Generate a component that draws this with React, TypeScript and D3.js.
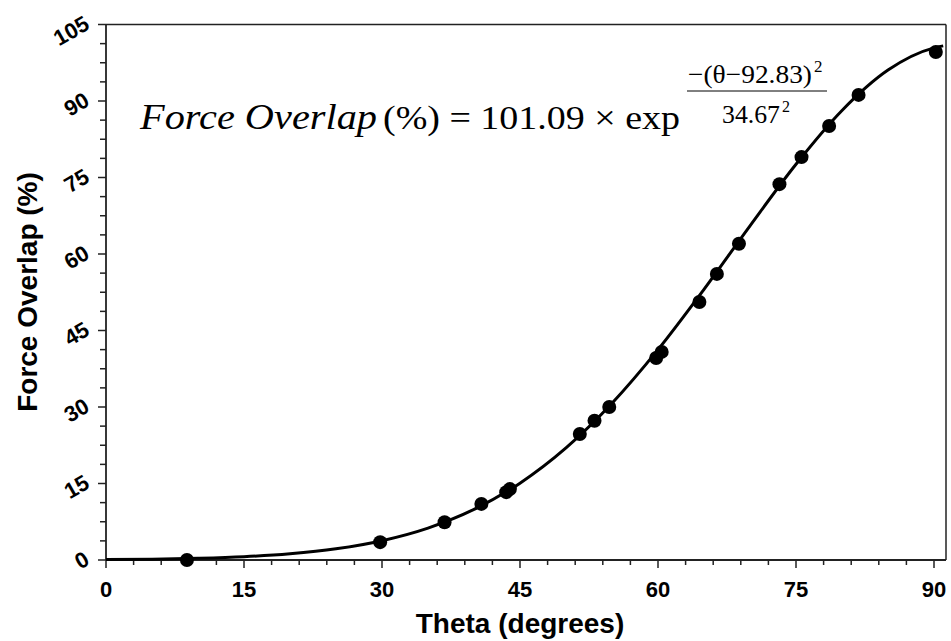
import React from "react";
import * as d3 from "d3";

const thetaValues = [8.8, 29.8, 36.8, 40.8, 43.5, 43.9, 51.5, 53.1, 54.7, 59.8, 60.4, 64.5, 66.4, 68.8, 73.2, 75.6, 78.6, 81.8, 90.2];
const overlapValues = [0, 3.5, 7.4, 11.0, 13.3, 13.9, 24.7, 27.3, 30.0, 39.6, 40.8, 50.6, 56.1, 62.0, 73.7, 79.0, 85.1, 91.2, 99.6];

const fitTheta = [0, 5, 10, 15, 20, 25, 30, 35, 40, 45, 50, 55, 60, 65, 70, 75, 80, 85, 90, 91];
const fitOverlap = [0.08, 0.16, 0.34, 0.65, 1.23, 2.2, 3.79, 6.26, 9.91, 15.07, 21.98, 30.73, 41.24, 53.07, 65.53, 77.6, 88.15, 96.07, 100.42, 100.81];

const xTickValues = [0, 15, 30, 45, 60, 75, 90];
const yTickValues = [0, 15, 30, 45, 60, 75, 90, 105];

const W = 951;
const H = 641;
const left = 106;
const right = 946;
const top = 24.5;
const bottom = 560;

export default function App() {
  const x = d3.scaleLinear().domain([0, 90]).range([left, left + 828]);
  const y = d3.scaleLinear().domain([0, 105]).range([bottom, top]);

  const xMinor = d3.range(0, 91, 3).filter((v) => !xTickValues.includes(v));
  const yMinor = d3.range(0, 105, 3.75).filter((v) => !yTickValues.includes(v));

  const line = d3
    .line<number>()
    .x((_, i) => x(fitTheta[i]))
    .y((d) => y(d))
    .curve(d3.curveMonotoneX);

  const axisColor = "#222";
  const tickFont = "Arial, 'Liberation Sans', sans-serif";

  return (
    <svg
      width={W}
      height={H}
      style={{ position: "absolute", left: 0, top: 0, background: "#fff" }}
    >
      <rect x={0} y={0} width={W} height={H} fill="#fff" />
      {/* frame */}
      <line x1={left} x2={right} y1={top} y2={top} stroke={axisColor} strokeWidth={1.5} />
      <line x1={right} x2={right} y1={top} y2={bottom} stroke={axisColor} strokeWidth={1.5} />
      <line x1={left} x2={left} y1={top} y2={bottom} stroke={axisColor} strokeWidth={1.8} />
      <line x1={left} x2={right} y1={bottom} y2={bottom} stroke={axisColor} strokeWidth={1.8} />

      {/* x ticks */}
      {xTickValues.map((v) => (
        <g key={"xt" + v}>
          <line x1={x(v)} x2={x(v)} y1={bottom} y2={bottom + 8} stroke={axisColor} strokeWidth={1.5} />
          <text
            x={x(v)}
            y={597}
            textAnchor="middle"
            fontFamily={tickFont}
            fontWeight="bold"
            fontSize={22}
            fill="#000"
          >
            {v}
          </text>
        </g>
      ))}
      {xMinor.map((v) => (
        <line key={"xm" + v} x1={x(v)} x2={x(v)} y1={bottom} y2={bottom + 5} stroke={axisColor} strokeWidth={1.5} />
      ))}

      {/* y ticks */}
      {yTickValues.map((v) => (
        <g key={"yt" + v}>
          <line x1={left - 8} x2={left} y1={y(v)} y2={y(v)} stroke={axisColor} strokeWidth={1.5} />
          <text
            x={87}
            y={y(v) - 3}
            dy="0.35em"
            textAnchor="end"
            transform={`rotate(-30, 87, ${y(v) - 3})`}
            fontFamily={tickFont}
            fontWeight="bold"
            fontSize={22}
            fill="#000"
          >
            {v}
          </text>
        </g>
      ))}
      {yMinor.map((v) => (
        <line key={"ym" + v} x1={left - 6} x2={left} y1={y(v)} y2={y(v)} stroke={axisColor} strokeWidth={1.5} />
      ))}

      {/* axis titles */}
      <text
        x={520}
        y={633}
        textAnchor="middle"
        fontFamily={tickFont}
        fontWeight="bold"
        fontSize={28}
        fill="#000"
      >
        Theta (degrees)
      </text>
      <text
        transform={`translate(37, 292) rotate(-90)`}
        textAnchor="middle"
        fontFamily={tickFont}
        fontWeight="bold"
        fontSize={28}
        fill="#000"
      >
        Force Overlap (%)
      </text>

      {/* fit curve */}
      <path d={line(fitOverlap) || ""} fill="none" stroke="#000" strokeWidth={3} />

      {/* data points */}
      {thetaValues.map((t, i) => (
        <circle key={"p" + i} cx={x(t)} cy={y(overlapValues[i])} r={7} fill="#000" />
      ))}

      {/* equation */}
      <g fontFamily="'Liberation Serif', 'Times New Roman', serif" fill="#000">
        <text x={140} y={129} fontSize={36} fontStyle="italic" textLength={237} lengthAdjust="spacingAndGlyphs">
          Force  Overlap
        </text>
        <text x={383} y={129} fontSize={34} textLength={297} lengthAdjust="spacingAndGlyphs">
          (%) = 101.09 × exp
        </text>
        <text x={688} y={83} fontSize={26}>
          <tspan textLength={124} lengthAdjust="spacingAndGlyphs">−(θ−92.83)</tspan>
          <tspan x={814} y={72} fontSize={17}>2</tspan>
        </text>
        <line x1={687} x2={827} y1={91} y2={91} stroke="#000" strokeWidth={1} />
        <text x={722} y={123} fontSize={26}>
          <tspan textLength={58} lengthAdjust="spacingAndGlyphs">34.67</tspan>
          <tspan x={782} y={112} fontSize={16}>2</tspan>
        </text>
      </g>
    </svg>
  );
}
